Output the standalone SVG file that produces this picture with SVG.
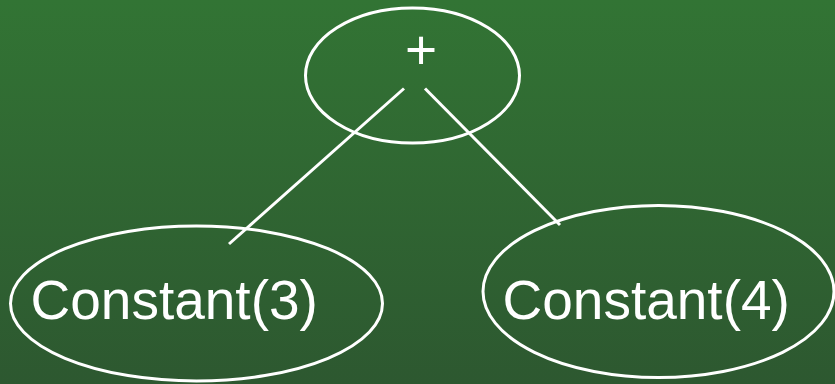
<svg xmlns="http://www.w3.org/2000/svg" width="835" height="384" viewBox="0 0 835 384">
<defs>
<linearGradient id="bg" x1="0" y1="0" x2="0" y2="1">
<stop offset="0" stop-color="#327434"/>
<stop offset="1" stop-color="#2d5830"/>
</linearGradient>
<style>
.node{fill:none;stroke:#fff;stroke-width:3}
.lbl{fill:#fff;font-family:"Liberation Sans",Arial,sans-serif;font-size:55px}
.edge{stroke:#fff;stroke-width:3;fill:none}
</style>
</defs>
<rect width="835" height="384" fill="url(#bg)"/>
<g id="edges">
<line class="edge" x1="404" y1="88.5" x2="229" y2="244"/>
<line class="edge" x1="425" y1="88.5" x2="560" y2="225"/>
</g>
<g id="plus">
<ellipse class="node" cx="412.5" cy="75.5" rx="107" ry="67.5"/>
<text class="lbl" x="421" y="69" text-anchor="middle" font-size="58">+</text>
</g>
<g id="const3">
<ellipse class="node" cx="196.5" cy="303.5" rx="186" ry="77.5"/>
<text class="lbl" x="30.5" y="319">Constant(3)</text>
</g>
<g id="const4">
<ellipse class="node" cx="658.5" cy="291.5" rx="175.5" ry="86"/>
<text class="lbl" x="502.5" y="319">Constant(4)</text>
</g>
</svg>
